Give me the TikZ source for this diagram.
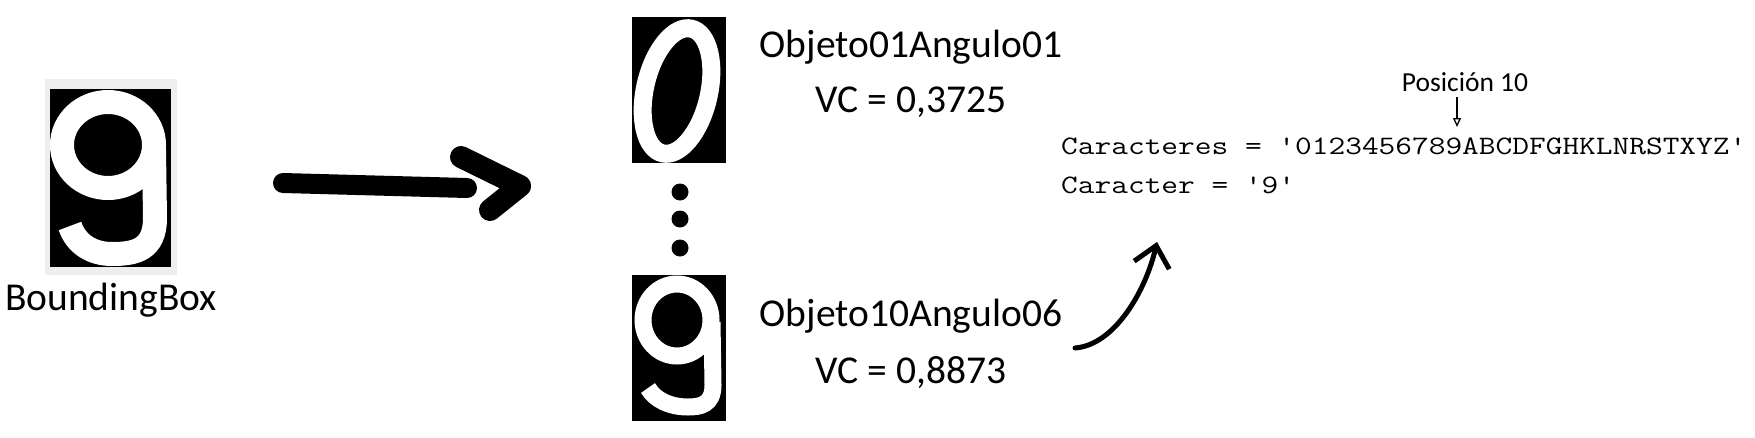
\documentclass[tikz,border=0pt]{standalone}
\usepackage{fontspec}
\setmainfont{Carlito}
\setmonofont{Latin Modern Mono}[FakeStretch=1.22]
\usetikzlibrary{arrows.meta}
\definecolor{framegray}{RGB}{238,238,238}
\begin{document}
\begin{tikzpicture}[x=1pt,y=-1pt,
  lbl/.style={inner sep=0pt,anchor=base,font=\fontsize{39.5}{42}\selectfont},
  smalllbl/.style={inner sep=0pt,anchor=base,font=\fontsize{27.5}{30}\selectfont},
  codeline/.style={inner sep=0pt,anchor=base west,font=\ttfamily\fontsize{26.6}{30}\selectfont},
  imgbox/.style={fill=black,draw=none,inner sep=0pt,minimum width=94pt,minimum height=146pt},
  dotmark/.style={circle,fill=black,inner sep=0pt,minimum size=17pt},
  bigarrow/.style={line width=20pt,line cap=round,line join=round},
  pointer/.style={line width=1.5pt,-{Triangle[open,length=9pt,width=8pt,line width=1.3pt]}},
  curvearrow/.style={line width=5pt,line cap=round,-{Straight Barb[length=20pt,width=36pt,line width=5pt]}},
]
\useasboundingbox (0,0) rectangle (1755,437);

% left bounding box image
\node[fill=framegray,inner sep=0pt,minimum width=132pt,minimum height=196pt] (frame) at (111,177) {};
\node[imgbox,minimum width=121pt,minimum height=178pt] (bb) at (110.5,178) {};
\begin{scope}
  \clip (bb.south west) rectangle (bb.north east);
  \draw[white,line width=24pt] (108,145) ellipse [x radius=46,y radius=43];
  \draw[white,line width=24pt] (154,150) -- (155,218) .. controls (155,250) and (135,254) .. (112,254) .. controls (92,254) and (76,244) .. (70,226);
\end{scope}
\node[lbl] (bblbl) at (111,310) {BoundingBox};

% big arrow
\coordinate (a1) at (283,183);
\coordinate (a2) at (467,188);
\draw[bigarrow] (a1) -- (a2);
\coordinate (c1) at (461,157);
\coordinate (c2) at (520,186);
\coordinate (c3) at (490,210);
\draw[bigarrow,line width=22pt] (c1) -- (c2) -- (c3);

% top image: 0
\node[imgbox] (img0) at (679,90) {};
\begin{scope}
  \clip (img0.south west) rectangle (img0.north east);
  \draw[white,line width=18pt,rotate around={-13:(677,91)}] (677,91) ellipse [x radius=32,y radius=64];
\end{scope}

% dots
\node[dotmark] (d1) at (680,192) {};
\node[dotmark] (d2) at (680,219) {};
\node[dotmark] (d3) at (680,248) {};

% bottom image: 9
\node[imgbox] (img9) at (679,348) {};
\begin{scope}
  \clip (img9.south west) rectangle (img9.north east);
  \draw[white,line width=17pt] (677,320) ellipse [x radius=34,y radius=36];
  \draw[white,line width=17pt] (712,322) -- (713,385) .. controls (713,405) and (700,407) .. (688,407) .. controls (670,407) and (655,400) .. (648,388);
\end{scope}

% labels
\node[lbl] (o1) at (911,57) {Objeto01Angulo01};
\node[lbl] (vc1) at (911,112) {VC = 0,3725};
\node[lbl] (o2) at (911,326) {Objeto10Angulo06};
\node[lbl] (vc2) at (911,383) {VC = 0,8873};

% code
\node[smalllbl] (pos) at (1465,91) {Posición 10};
\node[codeline] (chars) at (1061,154) {Caracteres = '0123456789ABCDFGHKLNRSTXYZ'};
\node[codeline] (char) at (1061,193) {Caracter = '9'};
\coordinate (p9) at (1457,127);
\draw[pointer,shorten <=6pt] (pos.south -| p9) -- (p9);

% curved arrow
\coordinate (cs) at (1075,348);
\coordinate (ce) at (1157,242);
\draw[curvearrow] (cs) .. controls (1115,345) and (1146,290) .. (ce);
\end{tikzpicture}
\end{document}
